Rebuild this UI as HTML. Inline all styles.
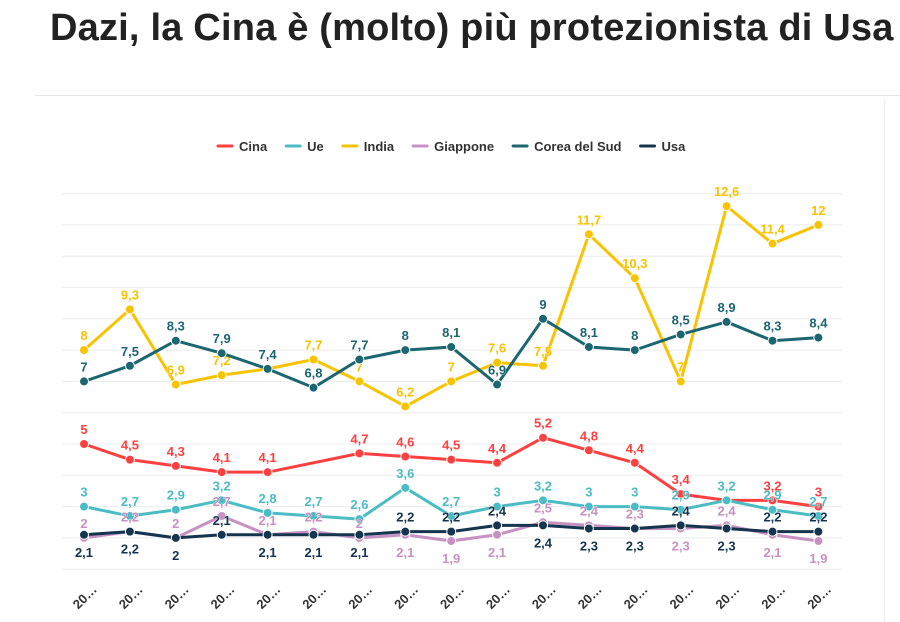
<!DOCTYPE html>
<html><head><meta charset="utf-8"><style>
body{margin:0;width:900px;height:622px;background:#fff;overflow:hidden;font-family:"Liberation Sans",sans-serif}
h1{position:absolute;left:50px;top:7px;margin:0;font-size:38px;font-weight:bold;color:#222;letter-spacing:0.2px;white-space:nowrap}
#rule{position:absolute;left:35px;top:95px;width:865px;height:1px;background:#e8e8e8}
#vr{position:absolute;left:884px;top:100px;width:1px;height:522px;background:#eee}
svg{position:absolute;left:0;top:0}
</style></head><body>
<h1>Dazi, la Cina è (molto) più protezionista di Usa</h1>
<div id="rule"></div>
<div id="vr"></div>
<svg id="c" width="900" height="622"></svg>
<script>
const categories=["20…","20…","20…","20…","20…","20…","20…","20…","20…","20…","20…","20…","20…","20…","20…","20…","20…"];
const cina=[5,4.5,4.3,4.1,4.1,null,4.7,4.6,4.5,4.4,5.2,4.8,4.4,3.4,3.2,3.2,3];
const ue=[3,2.7,2.9,3.2,2.8,2.7,2.6,3.6,2.7,3,3.2,3,3,2.9,3.2,2.9,2.7];
const india=[8,9.3,6.9,7.2,7.4,7.7,7,6.2,7,7.6,7.5,11.7,10.3,7,12.6,11.4,12];
const giappone=[2,2.2,2,2.7,2.1,2.2,2,2.1,1.9,2.1,2.5,2.4,2.3,2.3,2.4,2.1,1.9];
const corea=[7,7.5,8.3,7.9,7.4,6.8,7.7,8,8.1,6.9,9,8.1,8,8.5,8.9,8.3,8.4];
const usa=[2.1,2.2,2,2.1,2.1,2.1,2.1,2.2,2.2,2.4,2.4,2.3,2.3,2.4,2.3,2.2,2.2];
const usaLabelPos=["b","b","b","a","b","b","b","a","a","a","b","b","b","a","b","a","a"];
const giapLabelPos=["a","a","a","a","a","a","a","b","b","b","a","a","a","b","a","b","b"];
const indiaLabelShow=[1,1,1,1,0,1,1,1,1,1,1,1,1,1,1,1,1];
const yTicks=[1,2,3,4,5,6,7,8,9,10,11,12,13];
const series=[
 {name:"Cina",data:cina,color:"#ff4040"},
 {name:"Ue",data:ue,color:"#4bbcc4"},
 {name:"India",data:india,color:"#f8c300"},
 {name:"Giappone",data:giappone,color:"#c791c3"},
 {name:"Corea del Sud",data:corea,color:"#1b6670"},
 {name:"Usa",data:usa,color:"#15354f"}];
const NS="http://www.w3.org/2000/svg",svg=document.getElementById('c');
const x=i=>84+i*45.9;
const y=v=>444-(v-5)*31.3;
function mk(t,a,p){const e=document.createElementNS(NS,t);for(const k in a)e.setAttribute(k,a[k]);(p||svg).appendChild(e);return e;}
yTicks.forEach(t=>{const l=mk('line',{x1:62,x2:842,y1:y(t),y2:y(t),stroke:'#ececec','stroke-width':1});

});
categories.forEach((c,i)=>{const t=mk('text',{x:0,y:0,transform:`translate(${x(i)+4},${600}) rotate(-45)`,'text-anchor':'middle','font-size':13,'font-weight':'bold',fill:'#333'});t.textContent=c;

});
let lx=218;
series.forEach(s=>{const g=mk('g',{});


mk('line',{x1:lx,x2:lx+14,y1:146,y2:146,stroke:s.color,'stroke-width':3,'stroke-linecap':'round'},g);
const t=mk('text',{x:lx+21,y:151,'font-size':13,'font-weight':'bold',fill:'#333'},g);t.textContent=s.name;
lx+=21+t.getComputedTextLength()+19;});
function fmt(v){return String(v).replace('.',',');}
series.forEach(s=>{
 const pts=[];s.data.forEach((v,i)=>{if(v!==null)pts.push(x(i)+','+y(v));});
 const p=mk('polyline',{points:pts.join(' '),fill:'none',stroke:s.color,'stroke-width':3,'stroke-linejoin':'round'});
 
 
 s.data.forEach((v,i)=>{if(v===null)return;
  const d=mk('circle',{cx:x(i),cy:y(v),r:4.5,fill:s.color,stroke:'#fff','stroke-width':1});
  
  
  let below=false;
  if(s.data===usa)below=usaLabelPos[i]==='b';
  if(s.data===giappone)below=giapLabelPos[i]==='b';
  if(s.data===india&&!indiaLabelShow[i])return;
  const t=mk('text',{x:x(i),y:below?y(v)+22:y(v)-10,'text-anchor':'middle','font-size':13,'font-weight':'bold',fill:s.color,stroke:'#fff','stroke-width':0.6,'paint-order':'stroke'});
  t.textContent=fmt(v);
  
  
 });
});
</script>
</body></html>
